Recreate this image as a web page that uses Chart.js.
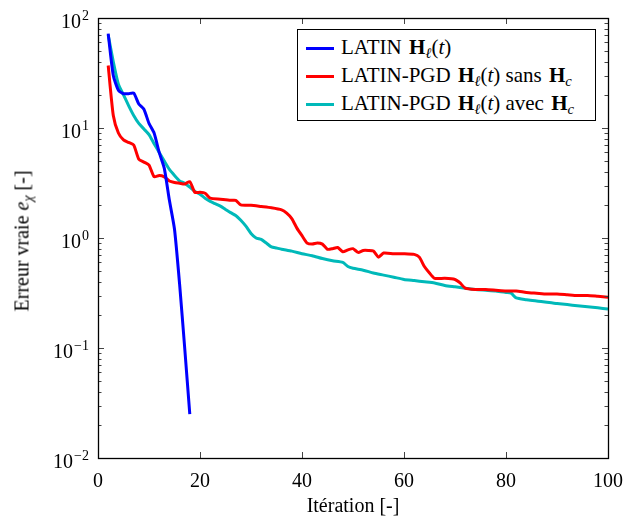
<!DOCTYPE html>
<html>
<head>
<meta charset="utf-8">
<script src="https://cdn.jsdelivr.net/npm/chart.js@4/dist/chart.umd.min.js"></script>
<style>
  body { margin: 0; background: #fff; }
  #wrap { position: relative; width: 625px; height: 521px; }
  #legend {
    position: absolute; left: 297px; top: 29px; width: 297px; height: 90px;
    border: 1px solid #000; background: #fff;
    font-family: "Liberation Serif", serif; font-size: 21px; color: #000;
  }
  #legend .row { position: absolute; left: 8px; height: 24px; line-height: 24px; white-space: nowrap; }
  #legend .swatch { display: inline-block; width: 28px; height: 3px; vertical-align: middle; margin-right: 7px; position: relative; top: -1px; }
  #legend b { margin-left: 2px; }
  #ytitle {
    position: absolute; left: 22px; top: 241px; transform: translate(-50%, -50%) rotate(-90deg);
    font-family: "Liberation Serif", serif; font-size: 20px; white-space: nowrap;
  }
  sub { font-size: 70%; vertical-align: -4px; line-height: 0; }
  i { font-style: italic; }
</style>
</head>
<body>
<div id="wrap">
  <canvas id="chart" width="625" height="521"></canvas>
  <div id="ytitle">Erreur vraie <i>e</i><sub><i>χ</i></sub> [-]</div>
  <div id="legend">
    <div class="row" style="top:5px"><span class="swatch" style="background:#0000ff"></span>LATIN <b>H</b><sub><i>ℓ</i></sub>(<i>t</i>)</div>
    <div class="row" style="top:33px"><span class="swatch" style="background:#ff0000"></span>LATIN-PGD <b>H</b><sub><i>ℓ</i></sub>(<i>t</i>) sans <b>H</b><sub><i>c</i></sub></div>
    <div class="row" style="top:61px"><span class="swatch" style="background:#00b9b9"></span>LATIN-PGD <b>H</b><sub><i>ℓ</i></sub>(<i>t</i>) avec <b>H</b><sub><i>c</i></sub></div>
  </div>
</div>
<script>
// iterations and errors
const latinIter = [2, 3, 4, 5, 6, 7, 8, 9, 10, 11, 12, 13, 14, 15, 16, 17, 18];
const latinErr = [72, 30, 22, 20.5, 20.5, 20.8, 16.5, 14.8, 11, 9, 6, 4.3, 2.2, 1.2, 0.38, 0.1, 0.025];

const sansIter = [2, 3, 4, 5, 6, 7, 8, 9, 10, 11, 12, 13, 14, 15, 16, 17, 18, 19, 20, 21, 22, 24, 26, 27, 28, 30,
  32, 34, 36, 37, 38, 39, 40, 41, 42, 43, 44, 45, 46, 47, 48, 49, 50, 51, 52, 53, 54, 55, 56, 58, 60, 62, 63, 64,
  65, 66, 68, 70, 71, 72, 74, 76, 78, 80, 82, 84, 86, 88, 90, 92, 94, 96, 98, 100];
const sansErr = [37, 13, 9, 7.8, 7.4, 7.0, 5.2, 4.9, 4.6, 3.6, 3.7, 3.6, 3.3, 3.2, 3.15, 3.1, 3.25, 2.6, 2.6, 2.55,
  2.3, 2.25, 2.2, 2.2, 2.0, 1.98, 1.93, 1.88, 1.8, 1.68, 1.5, 1.23, 1.05, 0.9, 0.88, 0.9, 0.88, 0.79, 0.8, 0.82,
  0.75, 0.78, 0.8, 0.74, 0.77, 0.77, 0.76, 0.67, 0.73, 0.72, 0.72, 0.71, 0.67, 0.55, 0.48, 0.43, 0.43, 0.42, 0.39,
  0.35, 0.34, 0.34, 0.335, 0.33, 0.33, 0.32, 0.315, 0.31, 0.31, 0.305, 0.3, 0.3, 0.295, 0.29];

const avecIter = [2, 3, 4, 5, 6, 7, 8, 9, 10, 11, 12, 13, 14, 15, 16, 17, 18, 19, 20, 21, 22, 23, 24, 25, 26, 27,
  28, 29, 30, 31, 32, 33, 34, 35, 36, 38, 40, 42, 44, 46, 48, 49, 50, 52, 54, 56, 58, 60, 62, 64, 66, 68, 70, 72,
  74, 76, 78, 80, 81, 82, 84, 86, 88, 90, 92, 94, 96, 98, 100];
const avecErr = [70, 40, 25, 20, 16, 13, 11, 9.8, 8.7, 7.2, 6, 5, 4.2, 3.7, 3.3, 3.15, 2.9, 2.65, 2.5, 2.3, 2.15,
  2.05, 1.95, 1.82, 1.7, 1.6, 1.45, 1.28, 1.1, 1.0, 0.97, 0.9, 0.83, 0.81, 0.79, 0.76, 0.72, 0.69, 0.65, 0.62,
  0.6, 0.55, 0.53, 0.51, 0.48, 0.46, 0.44, 0.42, 0.41, 0.4, 0.39, 0.37, 0.36, 0.35, 0.34, 0.335, 0.33, 0.32, 0.315,
  0.285, 0.275, 0.268, 0.26, 0.254, 0.248, 0.242, 0.237, 0.232, 0.226];

const xTicks = [0, 20, 40, 60, 80, 100];
const yExponents = [-2, -1, 0, 1, 2];

function toPoints(xs, ys) {
  return xs.map((x, i) => ({ x: x, y: ys[i] }));
}

function line(label, xs, ys, color) {
  return {
    label: label,
    data: toPoints(xs, ys),
    borderColor: color,
    backgroundColor: color,
    borderWidth: 3,
    pointRadius: 0,
    tension: 0.2,
    fill: false
  };
}

// frame, inward ticks and 10^n labels (pgfplots look)
const axesPlugin = {
  id: "axesPlugin",
  afterDraw(chart) {
    const ctx = chart.ctx;
    const a = chart.chartArea;
    const xs = chart.scales.x;
    const ys = chart.scales.y;
    ctx.save();
    ctx.strokeStyle = "#444";
    ctx.lineWidth = 1;
    ctx.beginPath();
    xTicks.forEach((v) => {
      const px = Math.round(xs.getPixelForValue(v)) + 0.5;
      ctx.moveTo(px, a.bottom); ctx.lineTo(px, a.bottom - 6);
      ctx.moveTo(px, a.top); ctx.lineTo(px, a.top + 6);
    });
    for (let e = -2; e < 2; e++) {
      for (let m = 1; m <= 10; m++) {
        const py = Math.round(ys.getPixelForValue(m * Math.pow(10, e))) + 0.5;
        const len = (m === 1 || m === 10) ? 6 : 3.5;
        ctx.moveTo(a.left, py); ctx.lineTo(a.left + len, py);
        ctx.moveTo(a.right, py); ctx.lineTo(a.right - len, py);
      }
    }
    ctx.stroke();

    ctx.strokeStyle = "#000";
    ctx.lineWidth = 1.3;
    ctx.strokeRect(Math.round(a.left) + 0.5, Math.round(a.top) + 0.5,
      Math.round(a.right - a.left), Math.round(a.bottom - a.top));

    ctx.fillStyle = "#000";
    ctx.textAlign = "right";
    ctx.textBaseline = "alphabetic";
    yExponents.forEach((e) => {
      const py = ys.getPixelForValue(Math.pow(10, e));
      const exp = e < 0 ? "\u2212" + Math.abs(e) : String(e);
      ctx.font = "14px 'Liberation Serif'";
      const w = ctx.measureText(exp).width;
      ctx.fillText(exp, 89, py + 2);
      ctx.font = "20px 'Liberation Serif'";
      ctx.fillText("10", 89 - w - 1, py + 10);
    });
    ctx.restore();
  }
};

new Chart(document.getElementById("chart"), {
  type: "line",
  data: {
    datasets: [
      line("LATIN H\u2113(t)", latinIter, latinErr, "#0000ff"),
      line("LATIN-PGD H\u2113(t) sans Hc", sansIter, sansErr, "#ff0000"),
      line("LATIN-PGD H\u2113(t) avec Hc", avecIter, avecErr, "#00b9b9")
    ]
  },
  options: {
    responsive: false,
    animation: false,
    layout: { padding: { top: 18, right: 17, left: 0, bottom: 0 } },
    plugins: {
      legend: { display: false },
      tooltip: { enabled: false }
    },
    scales: {
      x: {
        type: "linear",
        min: 0,
        max: 100,
        grid: { display: false },
        border: { display: false },
        afterBuildTicks: (s) => { s.ticks = xTicks.map((v) => ({ value: v })); },
        afterFit: (s) => { s.height = 63; s.paddingLeft = 0; s.paddingRight = 0; },
        ticks: {
          autoSkip: false,
          maxRotation: 0,
          padding: 4,
          color: "#000",
          font: { family: "Liberation Serif", size: 20 }
        },
        title: {
          display: true,
          text: "Itération [-]",
          color: "#000",
          font: { family: "Liberation Serif", size: 20 },
          padding: { top: 0, bottom: 2 }
        }
      },
      y: {
        type: "logarithmic",
        min: 0.01,
        max: 100,
        grid: { display: false },
        border: { display: false },
        ticks: { display: false },
        afterFit: (s) => { s.width = 98; s.paddingTop = 0; s.paddingBottom = 0; }
      }
    }
  },
  plugins: [axesPlugin]
});
</script>
</body>
</html>
